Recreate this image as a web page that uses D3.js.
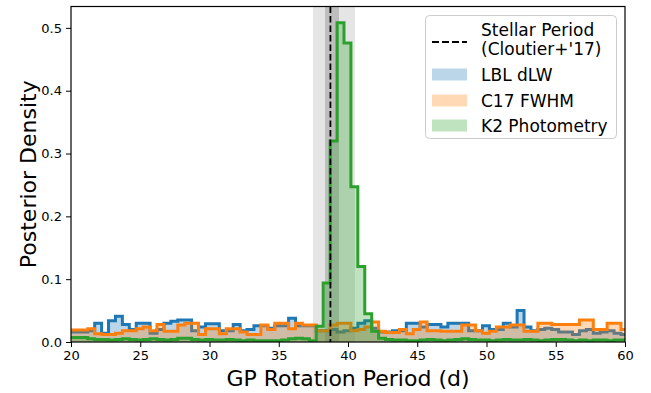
<!DOCTYPE html>
<html><head><meta charset="utf-8">
<script src="https://cdn.jsdelivr.net/npm/d3@7/dist/d3.min.js"></script>
<style>body{margin:0;background:#fff}svg{display:block}text{font-family:"DejaVu Sans",sans-serif}</style>
</head><body><svg id="c" width="651" height="393"></svg>
<script>
// ---- data ----
const binStart = 19.71, binWidth = 0.5, nBins = 81;
const binEdges = d3.range(nBins + 1).map(j => +(binStart + j * binWidth).toFixed(3));
const seriesNames = ["LBL dLW", "C17 FWHM", "K2 Photometry"];
const lblDLW = [0.016,0.016,0.016,0.018,0.030,0.014,0.034,0.041,0.028,0.020,0.030,0.030,0.014,0.020,0.030,0.033,0.035,0.035,0.018,0.024,0.029,0.029,0.018,0.018,0.028,0.018,0.020,0.026,0.026,0.022,0.026,0.026,0.038,0.026,0.026,0.026,0.018,0.018,0.020,0.016,0.018,0.022,0.030,0.034,0.022,0.016,0.016,0.018,0.018,0.030,0.030,0.024,0.028,0.028,0.024,0.030,0.030,0.030,0.018,0.018,0.026,0.020,0.020,0.030,0.024,0.050,0.024,0.018,0.020,0.022,0.020,0.016,0.016,0.012,0.018,0.020,0.014,0.016,0.018,0.014,0.012];
const c17FWHM = [0.019,0.019,0.019,0.021,0.013,0.012,0.012,0.014,0.018,0.018,0.021,0.024,0.018,0.028,0.017,0.017,0.027,0.030,0.030,0.012,0.021,0.021,0.013,0.021,0.021,0.016,0.012,0.012,0.027,0.020,0.030,0.030,0.021,0.030,0.027,0.027,0.018,0.018,0.027,0.030,0.030,0.018,0.020,0.024,0.032,0.017,0.015,0.015,0.020,0.013,0.020,0.032,0.018,0.018,0.017,0.017,0.017,0.027,0.027,0.018,0.014,0.017,0.024,0.024,0.027,0.027,0.017,0.017,0.030,0.030,0.028,0.028,0.028,0.028,0.035,0.035,0.020,0.020,0.030,0.030,0.020];
const k2Phot = [0.007,0.007,0.007,0.005,0.004,0.004,0.003,0.004,0.005,0.004,0.003,0.004,0.005,0.004,0.003,0.004,0.006,0.006,0.004,0.003,0.004,0.003,0.003,0.004,0.003,0.002,0.003,0.002,0.002,0.002,0.002,0.003,0.005,0.006,0.005,0.002,0.025,0.094,0.320,0.508,0.476,0.247,0.120,0.045,0.017,0.006,0.004,0.003,0.003,0.002,0.002,0.003,0.004,0.003,0.002,0.003,0.004,0.005,0.004,0.003,0.003,0.002,0.003,0.004,0.003,0.003,0.004,0.003,0.002,0.003,0.004,0.004,0.003,0.002,0.003,0.002,0.003,0.003,0.002,0.003,0.003];
const stellarPeriod = 38.73;
const band1 = [38.34, 39.35];   // inner (1-sigma)
const band2 = [37.47, 40.50];   // outer (2-sigma)
const xTicks = [20,25,30,35,40,45,50,55,60];
const yTicks = [0.0,0.1,0.2,0.3,0.4,0.5];
const xDomain = [20, 60], yDomain = [0, 0.534];

// ---- layout ----
const L = 71, R = 625, T = 6.5, B = 342;
const colors = ["#1f77b4", "#ff7f0e", "#2ca02c"];
const svg = d3.select("#c");
const x = d3.scaleLinear().domain(xDomain).range([L, R]);
const y = d3.scaleLinear().domain(yDomain).range([B, T]);

svg.append("defs").append("clipPath").attr("id", "clip")
  .append("rect").attr("x", L).attr("y", T).attr("width", R - L).attr("height", B - T);
const g = svg.append("g").attr("clip-path", "url(#clip)");

// bands
g.append("rect").attr("x", x(band2[0])).attr("width", x(band2[1]) - x(band2[0]))
  .attr("y", T).attr("height", B - T).attr("fill", "#000").attr("fill-opacity", 0.1);
g.append("rect").attr("x", x(band1[0])).attr("width", x(band1[1]) - x(band1[0]))
  .attr("y", T).attr("height", B - T).attr("fill", "#000").attr("fill-opacity", 0.17);

// histograms
[lblDLW, c17FWHM, k2Phot].forEach((vals, i) => {
  const pts = vals.map((v, j) => ({x: binEdges[j], y: v}));
  pts.push({x: binEdges[vals.length], y: vals[vals.length - 1]});
  const area = d3.area().curve(d3.curveStepAfter).x(d => x(d.x)).y0(y(0)).y1(d => y(d.y));
  g.append("path").attr("d", area(pts)).attr("fill", colors[i]).attr("fill-opacity", 0.3);
  const full = [{x: binEdges[0], y: 0}, ...pts.slice(0, -1), pts[pts.length - 1], {x: binEdges[vals.length], y: 0}];
  const line = d3.line().curve(d3.curveStepAfter).x(d => x(d.x)).y(d => y(d.y));
  g.append("path").attr("d", line(full)).attr("fill", "none").attr("stroke", colors[i])
    .attr("stroke-width", 3).attr("stroke-linejoin", "miter");
});

// stellar period line
g.append("line").attr("x1", x(stellarPeriod)).attr("x2", x(stellarPeriod)).attr("y1", T).attr("y2", B)
  .attr("stroke", "#000").attr("stroke-width", 1.8).attr("stroke-dasharray", "6.5,3");

// axes
const xAxis = svg.append("g").attr("transform", `translate(0,${B})`)
  .call(d3.axisBottom(x).tickValues(xTicks).tickSize(5).tickPadding(4).tickFormat(d3.format("d")));
const yAxis = svg.append("g").attr("transform", `translate(${L},0)`)
  .call(d3.axisLeft(y).tickValues(yTicks).tickSize(5).tickPadding(4).tickFormat(d3.format(".1f")));
[xAxis, yAxis].forEach(a => {
  a.select(".domain").remove();
  a.selectAll("text").attr("font-size", 13).attr("font-family", "DejaVu Sans").attr("fill", "#000");
  a.selectAll("line").attr("stroke", "#000").attr("stroke-width", 1);
});
svg.append("rect").attr("x", L).attr("y", T).attr("width", R - L).attr("height", B - T)
  .attr("fill", "none").attr("stroke", "#000").attr("stroke-width", 1.2);

svg.append("text").attr("x", (L + R) / 2).attr("y", 386).attr("text-anchor", "middle")
  .attr("font-size", 22).text("GP Rotation Period (d)");
svg.append("text").attr("transform", `translate(36,${(T + B) / 2}) rotate(-90)`).attr("text-anchor", "middle")
  .attr("font-size", 22).text("Posterior Density");

// legend
const lg = svg.append("g");
lg.append("rect").attr("x", 425.5).attr("y", 15.5).attr("width", 191).attr("height", 123).attr("rx", 4)
  .attr("fill", "#fff").attr("fill-opacity", 0.8).attr("stroke", "#cccccc").attr("stroke-width", 1);
lg.append("line").attr("x1", 432).attr("x2", 467).attr("y1", 42).attr("y2", 42)
  .attr("stroke", "#000").attr("stroke-width", 1.8).attr("stroke-dasharray", "7,3");
lg.append("text").attr("x", 481).attr("y", 36).attr("font-size", 17).text("Stellar Period");
lg.append("text").attr("x", 481).attr("y", 54.5).attr("font-size", 17).text("(Cloutier+'17)");
const rowY = [68.5, 94.5, 119.5];
seriesNames.forEach((name, i) => {
  lg.append("rect").attr("x", 432).attr("y", rowY[i]).attr("width", 35).attr("height", 12)
    .attr("fill", colors[i]).attr("fill-opacity", 0.3);
  lg.append("text").attr("x", 481).attr("y", rowY[i] + 12).attr("font-size", 17).text(name);
});
</script></body></html>
